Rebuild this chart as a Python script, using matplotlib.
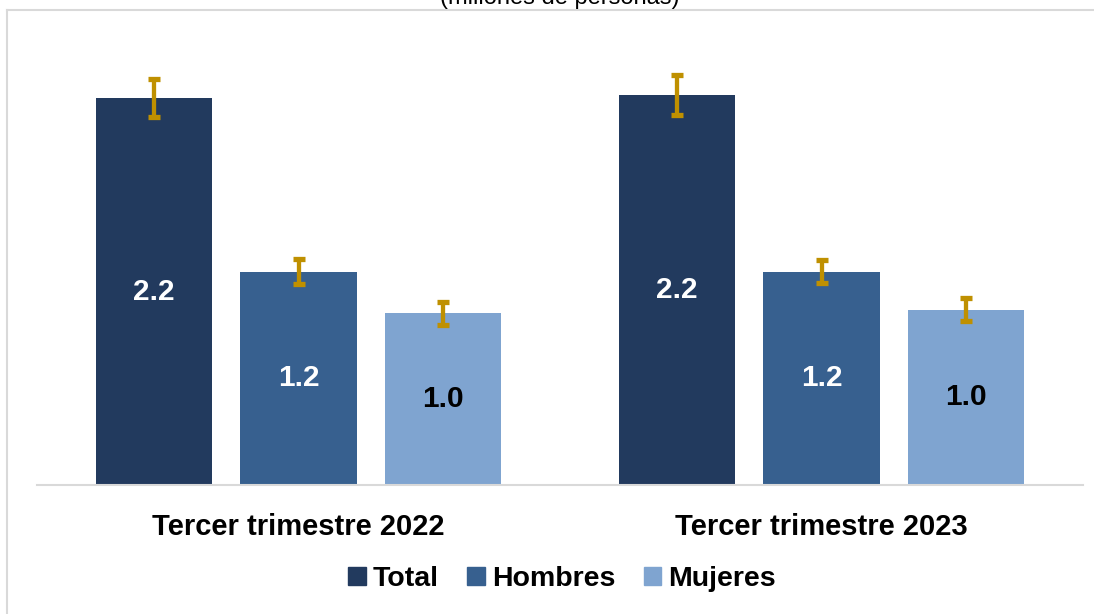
import numpy as np
import matplotlib.pyplot as plt
from matplotlib.lines import Line2D
from matplotlib.patches import Patch

plt.rcParams['font.family'] = ['Liberation Sans', 'DejaVu Sans']

## Data
periodos = ['Tercer trimestre 2022', 'Tercer trimestre 2023']
series = ['Total', 'Hombres', 'Mujeres']
total = [2.197, 2.217]
hombres = [1.212, 1.212]
mujeres = [0.975, 0.997]
err_total = [0.107, 0.115]
err_hombres = [0.071, 0.065]
err_mujeres = [0.065, 0.065]

colores = ['#223A5E', '#37608F', '#7FA4D0']
txt_colores = ['white', 'white', 'black']
err_color = '#BF9000'
gris = '#D9D9D9'

W, H = 1094, 614
fig = plt.figure(figsize=(W / 100, H / 100), dpi=100)
ax = fig.add_axes([37 / W, 129 / H, 1046 / W, 440 / H])

x = np.arange(len(periodos))
ancho = 0.222
paso = 0.277

valores = [total, hombres, mujeres]
errores = [err_total, err_hombres, err_mujeres]
for i in range(3):
    pos = x + (i - 1) * paso
    ax.bar(pos, valores[i], width=ancho, color=colores[i], zorder=2)
    ax.errorbar(pos, valores[i], yerr=errores[i], fmt='none', ecolor=err_color,
                elinewidth=3.1, capsize=4.4, capthick=3.8, zorder=3)
    for xp, v in zip(pos, valores[i]):
        ax.text(xp, v / 2, f'{v:.1f}', ha='center', va='center', color=txt_colores[i],
                fontsize=21.5, fontweight='bold', zorder=4)

ax.set_xlim(-0.5, 1.5)
ax.set_ylim(0, 2.5)
for s in ['top', 'right', 'left']:
    ax.spines[s].set_visible(False)
ax.spines['bottom'].set_color(gris)
ax.spines['bottom'].set_linewidth(1.5)
ax.set_yticks([])
ax.set_xticks(x)
ax.set_xticklabels(periodos, fontsize=21, fontweight='bold')
ax.tick_params(axis='x', length=0, pad=20)

## Legend
handles = [Patch(color=c) for c in colores]
fig.legend(handles, series, loc='center', bbox_to_anchor=(562 / W, 1 - 579 / H), ncol=3,
           frameon=False, prop={'size': 20.5, 'weight': 'bold'}, handlelength=0.62,
           handleheight=0.62, handletextpad=0.25, columnspacing=1.0)

## Title (cut at the top, as in the original)
fig.text(560 / W, 1 - 9 / H, '(millones de personas)', ha='center', va='bottom', fontsize=17)

## Border
fig.add_artist(Line2D([7 / W, 1], [1 - 10 / H, 1 - 10 / H], color=gris, lw=1.5))
fig.add_artist(Line2D([7 / W, 7 / W], [0, 1 - 10 / H], color=gris, lw=1.5))

fig.savefig('out.png', dpi=100)
